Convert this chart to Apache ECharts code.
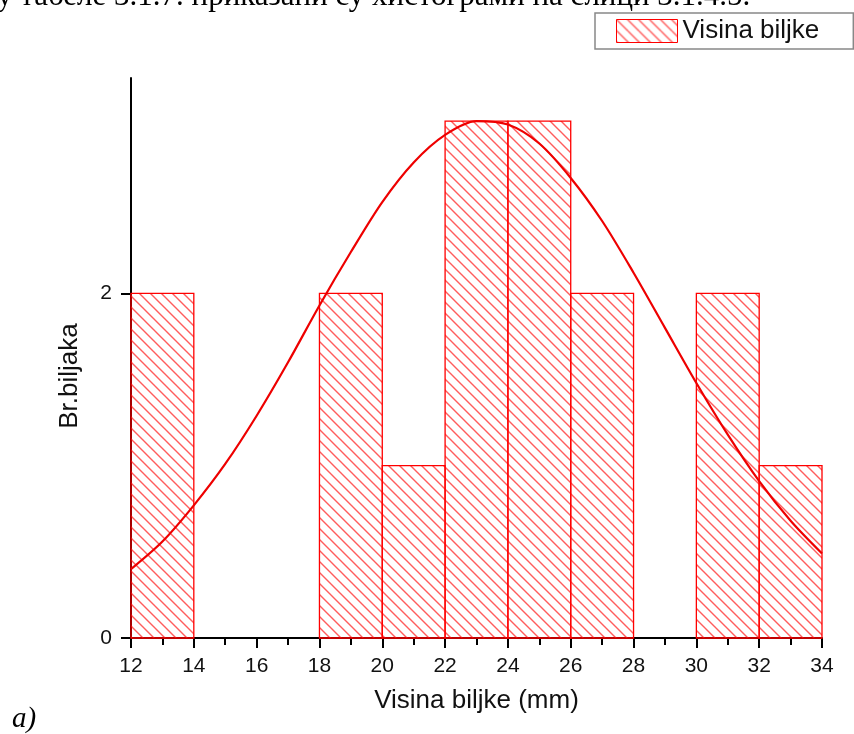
<!DOCTYPE html>
<html>
<head>
<meta charset="utf-8">
<script src="https://cdn.jsdelivr.net/npm/echarts@6/dist/echarts.min.js"></script>
<style>html,body{margin:0;padding:0;background:#fff;}#c{width:854px;height:734px;}</style>
</head>
<body>
<div id="c"></div>
<script>
// Histogram bins (start, end) and counts
const binStarts = [12, 14, 16, 18, 20, 22, 24, 26, 28, 30, 32];
const binEnds   = [14, 16, 18, 20, 22, 24, 26, 28, 30, 32, 34];
const counts    = [2, 0, 0, 2, 1, 3, 3, 2, 0, 2, 1];
// Fitted curve
const curveX = [12, 13, 14, 15, 16, 17, 18, 19, 20, 21, 22, 23, 24, 25, 26, 27, 28, 29, 30, 31, 32, 33, 34];
const curveY = [0.40, 0.56, 0.77, 1.01, 1.29, 1.60, 1.93, 2.24, 2.53, 2.76, 2.92, 3.00, 2.98, 2.87, 2.67, 2.42, 2.12, 1.80, 1.48, 1.18, 0.91, 0.68, 0.49];
const xTicks = [12, 14, 16, 18, 20, 22, 24, 26, 28, 30, 32, 34];
const yTicks = [0, 2];

function hatch() {
  const s = 11;
  const cv = document.createElement('canvas');
  cv.width = s; cv.height = s;
  const g = cv.getContext('2d');
  g.strokeStyle = 'rgba(255,30,30,0.72)';
  g.lineWidth = 1.4;
  g.beginPath();
  g.moveTo(0, 0); g.lineTo(s, s);
  g.moveTo(-2, s - 2); g.lineTo(2, s + 2);
  g.moveTo(s - 2, -2); g.lineTo(s + 2, 2);
  g.stroke();
  return { image: cv, repeat: 'repeat' };
}
const pattern = hatch();

const histData = binStarts.map((s, i) => [s, binEnds[i], counts[i]]);
const curveData = curveX.map((x, i) => [x, curveY[i]]);

const chart = echarts.init(document.getElementById('c'), null, { renderer: 'canvas' });
const font = 'Liberation Sans, Arial, sans-serif';
chart.setOption({
  animation: false,
  backgroundColor: '#fff',
  grid: { left: 131, right: 32, top: 78, bottom: 96 },
  legend: {
    left: 595, top: 13,
    padding: [5, 34, 5, 21],
    borderColor: '#888', borderWidth: 1.5,
    itemWidth: 61, itemHeight: 23, itemGap: 6,
    textStyle: { fontFamily: font, fontSize: 26, color: '#111' },
    data: [{ name: 'Visina biljke', icon: 'rect', itemStyle: { color: pattern, borderColor: '#ff0000', borderWidth: 1 } }]
  },
  xAxis: {
    type: 'value', min: 12, max: 34, interval: 2,
    name: 'Visina biljke (mm)', nameLocation: 'middle', nameGap: 50,
    nameTextStyle: { fontFamily: font, fontSize: 26, color: '#111' },
    axisLine: { show: true, onZero: false, lineStyle: { color: '#000', width: 2 } },
    axisTick: { show: true, inside: false, length: 10, lineStyle: { color: '#000', width: 2 }, customValues: xTicks },
    minorTick: { show: true, splitNumber: 2, length: 7, lineStyle: { color: '#000', width: 2 } },
    axisLabel: { fontFamily: font, fontSize: 21, color: '#111', margin: 18, customValues: xTicks },
    splitLine: { show: false }
  },
  yAxis: {
    type: 'value', min: 0, max: 3.25,
    name: 'Br.biljaka', nameLocation: 'middle', nameGap: 48,
    nameTextStyle: { fontFamily: font, fontSize: 26, color: '#111', padding: [0, 36, 0, 0] },
    axisLine: { show: true, lineStyle: { color: '#000', width: 2 } },
    axisTick: { show: true, inside: false, length: 10, lineStyle: { color: '#000', width: 2 }, customValues: yTicks },
    axisLabel: { fontFamily: font, fontSize: 21, color: '#111', margin: 19, customValues: yTicks },
    splitLine: { show: false }
  },
  graphic: [
    { type: 'text', left: -3, top: -19, style: { text: 'у табеле 3.1.7. приказани су хистограми на слици 3.1.4.5.', font: '31px "Liberation Serif", "Times New Roman", serif', fill: '#000' } },
    { type: 'text', left: 12, top: 705, style: { text: 'a)', font: 'italic 29px "Liberation Serif", "Times New Roman", serif', fill: '#000' } }
  ],
  series: [
    {
      name: 'Visina biljke', type: 'custom', data: histData, z: 2,
      encode: { x: [0, 1], y: 2 },
      itemStyle: { color: pattern },
      renderItem: function (params, api) {
        const v = api.value(2);
        if (!v) return null;
        const p0 = api.coord([api.value(0), v]);
        const p1 = api.coord([api.value(1), 0]);
        return {
          type: 'rect',
          shape: { x: p0[0], y: p0[1], width: p1[0] - p0[0], height: p1[1] - p0[1] },
          style: { fill: pattern, stroke: '#ff0000', lineWidth: 1.3 }
        };
      }
    },
    {
      name: 'fit', type: 'line', data: curveData, smooth: 0.3, symbol: 'none', z: 3,
      lineStyle: { color: '#ee0000', width: 2.2 }
    }
  ]
});
</script>
</body>
</html>
